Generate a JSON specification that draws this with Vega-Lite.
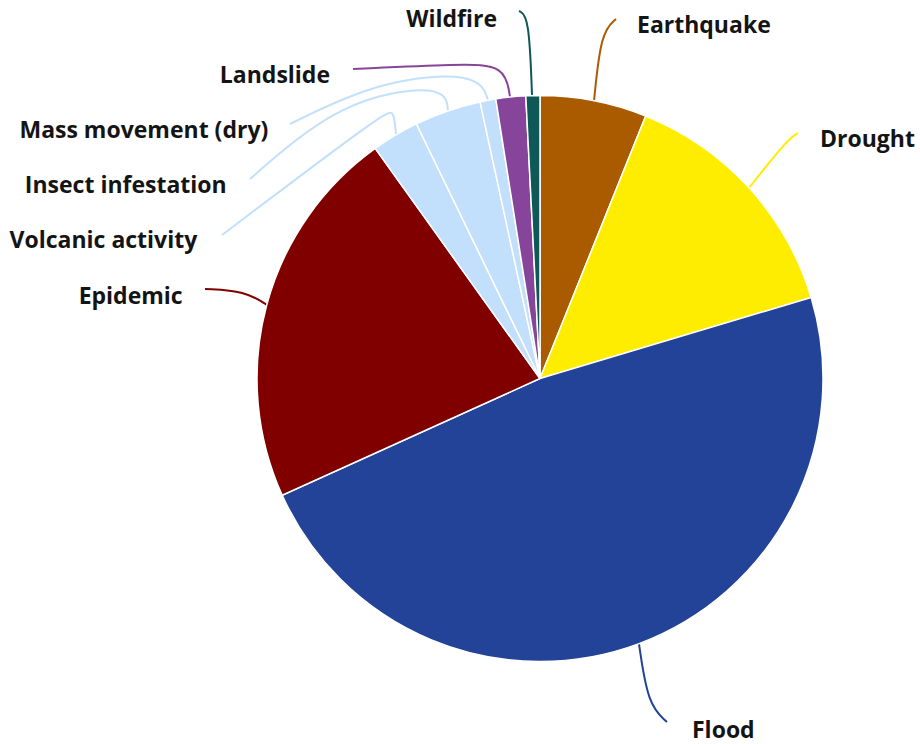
{
  "$schema": "https://vega.github.io/schema/vega-lite/v6.json",
  "width": 920,
  "height": 744,
  "autosize": {"type": "none"},
  "padding": 0,
  "background": "white",
  "config": {"view": {"stroke": null}},
  "datasets": {
    "slices": [
      {"hazard": "Earthquake", "share": 6.1},
      {"hazard": "Drought", "share": 14.3},
      {"hazard": "Flood", "share": 47.9},
      {"hazard": "Epidemic", "share": 21.9},
      {"hazard": "Volcanic activity", "share": 2.7},
      {"hazard": "Insect infestation", "share": 3.8},
      {"hazard": "Mass movement (dry)", "share": 0.9},
      {"hazard": "Landslide", "share": 1.7},
      {"hazard": "Wildfire", "share": 0.8}
    ],
    "leaders": [
      {"hazard": "Earthquake", "step": 1, "lx": 54, "ly": 277.5},
      {"hazard": "Earthquake", "step": 2, "lx": 61, "ly": 346.5},
      {"hazard": "Earthquake", "step": 3, "lx": 76, "ly": 359.5},
      {"hazard": "Drought", "step": 1, "lx": 209, "ly": 190.5},
      {"hazard": "Drought", "step": 2, "lx": 247, "ly": 238.5},
      {"hazard": "Drought", "step": 3, "lx": 258, "ly": 245.5},
      {"hazard": "Flood", "step": 1, "lx": 99, "ly": -265.5},
      {"hazard": "Flood", "step": 2, "lx": 108, "ly": -326.5},
      {"hazard": "Flood", "step": 3, "lx": 127, "ly": -343.5},
      {"hazard": "Epidemic", "step": 1, "lx": -273, "ly": 73.5},
      {"hazard": "Epidemic", "step": 2, "lx": -295, "ly": 87.5},
      {"hazard": "Epidemic", "step": 3, "lx": -335, "ly": 89.5},
      {"hazard": "Volcanic activity", "step": 1, "lx": -318, "ly": 143.5},
      {"hazard": "Volcanic activity", "step": 2, "lx": -155, "ly": 266.5},
      {"hazard": "Volcanic activity", "step": 3, "lx": -146, "ly": 268.5},
      {"hazard": "Volcanic activity", "step": 4, "lx": -144, "ly": 243.5},
      {"hazard": "Insect infestation", "step": 1, "lx": -290, "ly": 199.5},
      {"hazard": "Insect infestation", "step": 2, "lx": -200, "ly": 278.5},
      {"hazard": "Insect infestation", "step": 3, "lx": -95, "ly": 295.5},
      {"hazard": "Insect infestation", "step": 4, "lx": -92, "ly": 267.5},
      {"hazard": "Mass movement (dry)", "step": 1, "lx": -250, "ly": 254.5},
      {"hazard": "Mass movement (dry)", "step": 2, "lx": -160, "ly": 298.5},
      {"hazard": "Mass movement (dry)", "step": 3, "lx": -62, "ly": 306.5},
      {"hazard": "Mass movement (dry)", "step": 4, "lx": -52, "ly": 278.5},
      {"hazard": "Landslide", "step": 1, "lx": -187, "ly": 309.5},
      {"hazard": "Landslide", "step": 2, "lx": -80, "ly": 314.5},
      {"hazard": "Landslide", "step": 3, "lx": -35, "ly": 313.5},
      {"hazard": "Landslide", "step": 4, "lx": -30, "ly": 281.5},
      {"hazard": "Wildfire", "step": 1, "lx": -8, "ly": 283.5},
      {"hazard": "Wildfire", "step": 2, "lx": -11, "ly": 362.5},
      {"hazard": "Wildfire", "step": 3, "lx": -21, "ly": 367.5}
    ],
    "labels": [
      {"hazard": "Wildfire", "lx": -43, "ly": 351.8},
      {"hazard": "Landslide", "lx": -210, "ly": 295.8},
      {"hazard": "Mass movement (dry)", "lx": -271.7, "ly": 240.5},
      {"hazard": "Insect infestation", "lx": -313.3, "ly": 185.2},
      {"hazard": "Volcanic activity", "lx": -342.7, "ly": 130.2},
      {"hazard": "Epidemic", "lx": -357.3, "ly": 74.5},
      {"hazard": "Earthquake", "lx": 97, "ly": 345.2},
      {"hazard": "Drought", "lx": 280, "ly": 231.8},
      {"hazard": "Flood", "lx": 152, "ly": -359.2}
    ]
  },
  "layer": [
    {
      "data": {"name": "leaders"},
      "mark": {"type": "line", "strokeWidth": 2, "interpolate": "basis"},
      "encoding": {
        "x": {"field": "lx", "type": "quantitative", "scale": {"domain": [-540, 380], "nice": false, "zero": false}, "axis": null},
        "y": {"field": "ly", "type": "quantitative", "scale": {"domain": [-365.5, 378.5], "nice": false, "zero": false}, "axis": null},
        "color": {
          "field": "hazard", "type": "nominal", "legend": null,
          "scale": {
            "domain": ["Earthquake", "Drought", "Flood", "Epidemic", "Volcanic activity", "Insect infestation", "Mass movement (dry)", "Landslide", "Wildfire"],
            "range": ["#AA5B00", "#FFED00", "#224397", "#800000", "#C2DFFB", "#C2DFFB", "#C2DFFB", "#86449A", "#0E5858"]
          }
        },
        "detail": {"field": "hazard"},
        "order": {"field": "step", "type": "quantitative"}
      }
    },
    {
      "data": {"name": "slices"},
      "transform": [{"window": [{"op": "row_number", "as": "rank"}]}],
      "mark": {"type": "arc", "outerRadius": 283, "stroke": "white", "strokeWidth": 1.5},
      "encoding": {
        "x": {"datum": 0, "type": "quantitative", "scale": {"domain": [-540, 380], "nice": false, "zero": false}},
        "y": {"datum": 0, "type": "quantitative", "scale": {"domain": [-365.5, 378.5], "nice": false, "zero": false}},
        "theta": {"field": "share", "type": "quantitative", "stack": true},
        "order": {"field": "rank", "type": "quantitative"},
        "color": {
          "field": "hazard", "type": "nominal", "legend": null,
          "scale": {
            "domain": ["Earthquake", "Drought", "Flood", "Epidemic", "Volcanic activity", "Insect infestation", "Mass movement (dry)", "Landslide", "Wildfire"],
            "range": ["#AA5B00", "#FFED00", "#224397", "#800000", "#C2DFFB", "#C2DFFB", "#C2DFFB", "#86449A", "#0E5858"]
          }
        }
      }
    },
    {
      "data": {"name": "labels"},
      "transform": [{"filter": "datum.lx < 0"}],
      "mark": {"type": "text", "align": "right", "baseline": "alphabetic", "font": "Open Sans", "fontWeight": "bold", "fontSize": 23, "fill": "#141414"},
      "encoding": {
        "x": {"field": "lx", "type": "quantitative", "scale": {"domain": [-540, 380], "nice": false, "zero": false}},
        "y": {"field": "ly", "type": "quantitative", "scale": {"domain": [-365.5, 378.5], "nice": false, "zero": false}},
        "text": {"field": "hazard"}
      }
    },
    {
      "data": {"name": "labels"},
      "transform": [{"filter": "datum.lx >= 0"}],
      "mark": {"type": "text", "align": "left", "baseline": "alphabetic", "font": "Open Sans", "fontWeight": "bold", "fontSize": 23, "fill": "#141414"},
      "encoding": {
        "x": {"field": "lx", "type": "quantitative", "scale": {"domain": [-540, 380], "nice": false, "zero": false}},
        "y": {"field": "ly", "type": "quantitative", "scale": {"domain": [-365.5, 378.5], "nice": false, "zero": false}},
        "text": {"field": "hazard"}
      }
    }
  ]
}
